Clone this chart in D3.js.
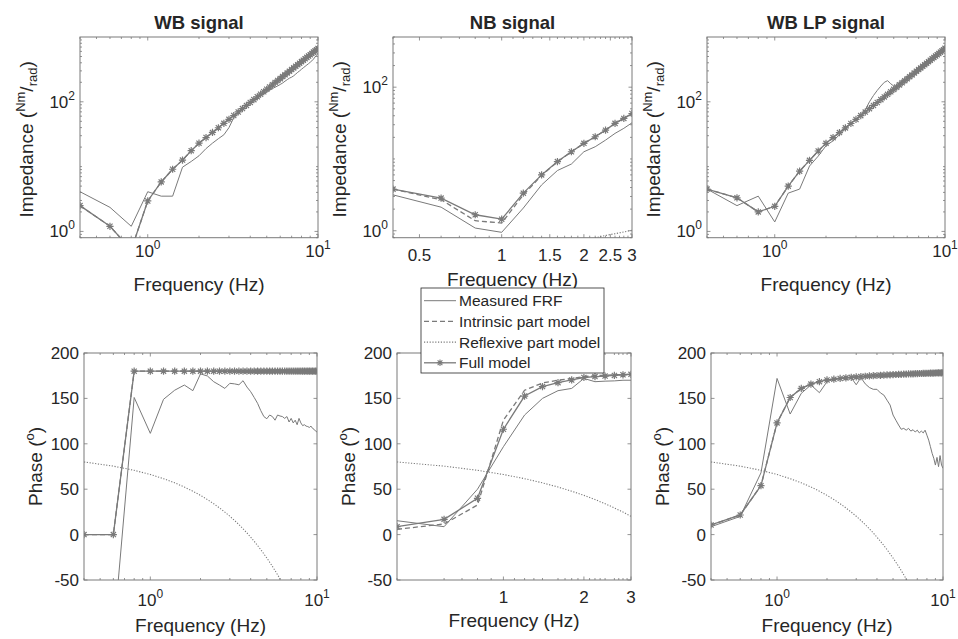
<!DOCTYPE html>
<html>
<head>
<meta charset="utf-8">
<script src="https://cdn.jsdelivr.net/npm/d3@7"></script>
<style>
  body { margin: 0; background: #fff; }
  text { font-family: "Liberation Sans", Arial, Helvetica, sans-serif; fill: #262626; }
</style>
</head>
<body>
<svg id="fig" width="958" height="639"></svg>
<script>
// frequencies (Hz)
const freqWB = [0.4, 0.6, 0.8, 1.0, 1.2, 1.4, 1.6, 1.8, 2.0, 2.2, 2.4, 2.6, 2.8, 3.0, 3.2, 3.4, 3.6, 3.8, 4.0, 4.2,
  4.4, 4.6, 4.8, 5.0, 5.2, 5.4, 5.6, 5.8, 6.0, 6.2, 6.4, 6.6, 6.8, 7.0, 7.2, 7.4, 7.6, 7.8, 8.0, 8.2,
  8.4, 8.6, 8.8, 9.0, 9.2, 9.4, 9.6, 9.8, 10.0];
const freqNB = [0.4, 0.6, 0.8, 1.0, 1.2, 1.4, 1.6, 1.8, 2.0, 2.2, 2.4, 2.6, 2.8, 3.0];

// WB signal
const wbMagMeasured = [4.1, 2.35, 1.2, 4.1, 3.5, 3.5, 9.8, 12, 14.7, 19, 23, 27, 31, 40, 57, 66, 76, 86, 95, 104,
  114, 124, 134, 143, 152, 160, 168, 176, 185, 195, 208, 220, 232, 240, 252, 268, 285, 300, 318, 335,
  352, 370, 388, 408, 428, 455, 490, 520, 560];
const wbMagFull = [2.5, 1.2, 0.52, 2.95, 5.8, 9.1, 12.6, 17.6, 23, 28.1, 33.7, 39.8, 46.5, 53.7, 61.4, 69.7, 78.6, 88, 97.9, 108,
  119.5, 131, 143, 156, 169, 183, 198, 213, 228, 245, 261, 279, 297, 315, 334, 354, 374, 395, 417, 439,
  462, 485, 509, 533, 558, 584, 610, 637, 665];
const wbMagIntrinsic = wbMagFull.slice();
const wbPhaseMeasured = [-120, -113, 151, 111.5, 149, 159, 164.7, 158.5, 177, 174.7, 168.4, 164.7, 161, 166.6, 166, 165, 169.5, 162.5, 157.4, 151,
  144.6, 136.5, 130, 127.6, 131.7, 130, 126, 131.7, 130.6, 130, 128, 130, 124, 128, 123, 126, 121, 128, 123, 120,
  121, 119.5, 119, 118, 119.5, 117, 116, 114, 113];
const wbPhaseFull = [0, 0, 180, 180, 180, 180, 180, 180, 180, 180, 180, 180, 180, 180, 180, 180, 180, 180, 180, 180,
  180, 180, 180, 180, 180, 180, 180, 180, 180, 180, 180, 180, 180, 180, 180, 180, 180, 180, 180, 180,
  180, 180, 180, 180, 180, 180, 180, 180, 180];
const wbPhaseIntrinsic = wbPhaseFull.slice();
const wbPhaseReflex = [80, 75.4, 70.8, 66.2, 61.6, 57, 52.4, 47.8, 43.2, 38.6, 34, 29.4, 24.8, 20.2, 15.6, 11, 6.4, 1.8, -2.8, -7.4,
  -12, -16.6, -21.2, -25.8, -30.4, -35, -39.6, -44.2, -48.8, -53.4, -58, -62.6, -67.2, -71.8, -76.4, -81, -85.6, -90.2, -94.8, -99.4,
  -104, -108.6, -113.2, -117.8, -122.4, -127, -131.6, -136.2, -140.8];

// NB signal
const nbMagMeasured = [3.16, 2.13, 1.09, 0.95, 2.07, 4.35, 6.9, 8.5, 12.6, 14.8, 18.3, 22.7, 26.7, 31.9];
const nbMagIntrinsic = [3.8, 2.7, 1.38, 1.28, 3.16, 5.9, 9.1, 12.6, 16.5, 20.4, 25.2, 31.3, 36.7, 43];
const nbMagReflex = [0.3, 0.35, 0.4, 0.45, 0.5, 0.55, 0.6, 0.66, 0.73, 0.8, 0.86, 0.91, 0.96, 1.02];
const nbMagFull = [3.8, 2.85, 1.67, 1.45, 3.34, 6.0, 9.2, 12.6, 16.5, 20.4, 25.2, 31.3, 36.7, 43];
const nbPhaseMeasured = [15.3, 8.7, 50, 96.8, 131.7, 150, 158.5, 161, 172, 168.4, 169, 169.3, 170, 170];
const nbPhaseIntrinsic = [5.8, 11.7, 32.6, 126, 159, 167, 170, 172, 174, 175, 175.5, 176, 176.3, 176.6];
const nbPhaseReflex = [80, 75.4, 70.8, 66.2, 61.6, 57, 52.4, 47.8, 43.2, 38.6, 34, 29.4, 24.8, 20.2];
const nbPhaseFull = [8.7, 16.8, 40, 116, 152.6, 163, 167.3, 170.3, 173, 174, 174.6, 175.3, 176, 176.5];

// WB LP signal
const lpMagMeasured = [4.5, 2.5, 3.5, 1.4, 3.9, 4.5, 10.2, 14.5, 21, 25, 31, 38, 46, 54, 63, 75, 100, 125, 150, 175,
  200, 212, 190, 175, 172, 180, 195, 208, 220, 240, 255, 272, 290, 305, 322, 338, 350, 362, 378, 398,
  425, 455, 480, 510, 540, 570, 600, 625, 650];
const lpMagFull = [4.5, 3.3, 2.0, 2.44, 5.0, 8.5, 12.5, 17.4, 22.9, 28, 33.5, 39.6, 46.3, 53.5, 61.2, 69.5, 78.4, 88, 97.6, 108,
  119, 130.5, 142.5, 155.5, 168.5, 182.5, 197, 212, 227, 244, 260, 278, 296, 314, 333, 353, 373, 394, 416, 438,
  461, 484, 508, 532, 557, 583, 609, 636, 668];
const lpMagIntrinsic = lpMagFull.slice();
const lpPhaseMeasured = [8.7, 20, 68, 172, 132.8, 155.6, 164.8, 156.3, 168.4, 171, 172, 173, 172.8, 165, 173, 166, 162, 160, 160, 156,
  153.7, 148, 142.7, 131.7, 126, 120.7, 116, 117, 115, 117, 114, 115.5, 113, 115, 112, 114, 112, 115, 109.5, 104,
  96.8, 89.5, 84, 76.6, 85, 74.8, 87, 76.6, 73];
const lpPhaseFull = [10.6, 21.6, 53.9, 123, 151, 161, 165.8, 168.4, 170.3, 171.2, 172, 172.6, 173.2, 173.6, 174, 174.4, 174.7, 175, 175.2, 175.4,
  175.6, 175.8, 176, 176.1, 176.3, 176.4, 176.5, 176.7, 176.8, 176.9, 177, 177.1, 177.2, 177.3, 177.4, 177.4, 177.5, 177.6, 177.7, 177.7,
  177.8, 177.9, 177.9, 178, 178.1, 178.1, 178.2, 178.2, 178.3];
const lpPhaseIntrinsic = lpPhaseFull.slice();
const lpPhaseReflex = wbPhaseReflex.slice();

// ticks
const logMinorWB = [0.4, 0.5, 0.6, 0.7, 0.8, 0.9, 2, 3, 4, 5, 6, 7, 8, 9];
const logMinorNB = [0.4, 0.6, 0.7, 0.8, 0.9, 1.1, 1.2, 1.3, 1.4, 1.6, 1.7, 1.8, 1.9, 2.1, 2.2, 2.3, 2.4, 2.6, 2.7, 2.8, 2.9];
const magMinor = [0.8, 0.9, 2, 3, 4, 5, 6, 7, 8, 9, 10, 20, 30, 40, 50, 60, 70, 80, 90, 200, 300, 400, 500, 600, 700, 800, 900];
const phaseTicks = [-50, 0, 50, 100, 150, 200];
const legendLabels = ['Measured FRF', 'Intrinsic part model', 'Reflexive part model', 'Full model'];

const LN = '#7a7a7a', AX = '#7a7a7a';
const styles = [
  { dash: null, width: 1 },
  { dash: '5,3', width: 1.3 },
  { dash: '1.2,1.6', width: 1.1 },
  { dash: null, width: 1.3, marker: true }
];

const svg = d3.select('#fig');

function star(s) {
  const a = s * 0.72;
  return `M${-s},0H${s}M0,${-s}V${s}M${-a},${-a}L${a},${a}M${-a},${a}L${a},${-a}`;
}

const panels = [
  { left: 80, right: 318, top: 37, bottom: 237.7, yDom: [0.8, 1000], log: true, xDom: [0.4, 10], freq: freqWB,
    title: 'WB signal', data: [wbMagMeasured, wbMagIntrinsic, null, wbMagFull], xt: [1, 10], xPow: true, xMinor: logMinorWB, xtBase: 257, xlBase: 291 },
  { left: 393, right: 632, top: 37, bottom: 237.7, yDom: [0.8, 500], log: true, xDom: [0.4, 3], freq: freqNB,
    title: 'NB signal', data: [nbMagMeasured, nbMagIntrinsic, nbMagReflex, nbMagFull], xt: [0.5, 1, 1.5, 2, 2.5, 3], xPow: false, xMinor: logMinorNB, xtBase: 261, xlBase: 286 },
  { left: 707, right: 945, top: 37, bottom: 237.7, yDom: [0.8, 1000], log: true, xDom: [0.4, 10], freq: freqWB,
    title: 'WB LP signal', data: [lpMagMeasured, lpMagIntrinsic, null, lpMagFull], xt: [1, 10], xPow: true, xMinor: logMinorWB, xtBase: 257, xlBase: 291 },
  { left: 84, right: 317, top: 353, bottom: 580, yDom: [-50, 200], log: false, xDom: [0.4, 10], freq: freqWB,
    data: [wbPhaseMeasured, wbPhaseIntrinsic, wbPhaseReflex, wbPhaseFull], xt: [1, 10], xPow: true, xMinor: logMinorWB, xtBase: 606, xlBase: 632 },
  { left: 397, right: 631, top: 353, bottom: 580, yDom: [-50, 200], log: false, xDom: [0.4, 3], freq: freqNB,
    data: [nbPhaseMeasured, nbPhaseIntrinsic, nbPhaseReflex, nbPhaseFull], xt: [1, 2, 3], xPow: false, xMinor: logMinorNB, xtBase: 603, xlBase: 627 },
  { left: 711, right: 943, top: 353, bottom: 580, yDom: [-50, 200], log: false, xDom: [0.4, 10], freq: freqWB,
    data: [lpPhaseMeasured, lpPhaseIntrinsic, lpPhaseReflex, lpPhaseFull], xt: [1, 10], xPow: true, xMinor: logMinorWB, xtBase: 606, xlBase: 632 }
];

panels.forEach((p, i) => {
  const g = svg.append('g');
  const x = d3.scaleLog().domain(p.xDom).range([p.left, p.right]);
  const y = (p.log ? d3.scaleLog() : d3.scaleLinear()).domain(p.yDom).range([p.bottom, p.top]);

  svg.append('clipPath').attr('id', 'clip' + i).append('rect')
    .attr('x', p.left).attr('y', p.top).attr('width', p.right - p.left).attr('height', p.bottom - p.top);
  const plot = g.append('g').attr('clip-path', `url(#clip${i})`);
  const line = d3.line().x(d => x(d[0])).y(d => y(d[1]));

  p.data.forEach((vals, k) => {
    if (!vals) return;
    const st = styles[k];
    const pts = p.freq.map((f, j) => [f, vals[j]]);
    plot.append('path').attr('d', line(pts)).attr('fill', 'none')
      .attr('stroke', LN).attr('stroke-width', st.width)
      .attr('stroke-dasharray', st.dash);
    if (st.marker) {
      plot.selectAll(null).data(pts).join('path')
        .attr('transform', d => `translate(${x(d[0])},${y(d[1])})`)
        .attr('d', star(3.6)).attr('fill', 'none').attr('stroke', LN).attr('stroke-width', 1.2);
    }
  });

  // box
  g.append('rect').attr('x', p.left).attr('y', p.top).attr('width', p.right - p.left).attr('height', p.bottom - p.top)
    .attr('fill', 'none').attr('stroke', AX).attr('stroke-width', 1);

  // x ticks
  const tk = g.append('g').attr('stroke', AX).attr('stroke-width', 0.8);
  p.xMinor.forEach(v => {
    tk.append('line').attr('x1', x(v)).attr('x2', x(v)).attr('y1', p.bottom).attr('y2', p.bottom - 2);
    tk.append('line').attr('x1', x(v)).attr('x2', x(v)).attr('y1', p.top).attr('y2', p.top + 2);
  });
  p.xt.forEach(v => {
    tk.append('line').attr('x1', x(v)).attr('x2', x(v)).attr('y1', p.bottom).attr('y2', p.bottom - 3.5);
    tk.append('line').attr('x1', x(v)).attr('x2', x(v)).attr('y1', p.top).attr('y2', p.top + 3.5);
    const t = g.append('text').attr('x', x(v)).attr('y', p.xtBase).attr('text-anchor', 'middle').attr('font-size', 17);
    if (p.xPow) {
      t.append('tspan').text('10');
      t.append('tspan').attr('font-size', 12).attr('dy', -8).text(Math.round(Math.log10(v)));
    } else {
      t.text(v);
    }
  });

  // y ticks
  const yMajor = p.log ? [1, 100] : phaseTicks;
  if (p.log) {
    magMinor.filter(v => v >= p.yDom[0] && v <= p.yDom[1]).forEach(v => {
      tk.append('line').attr('x1', p.left).attr('x2', p.left + 2).attr('y1', y(v)).attr('y2', y(v));
      tk.append('line').attr('x1', p.right).attr('x2', p.right - 2).attr('y1', y(v)).attr('y2', y(v));
    });
  }
  yMajor.forEach(v => {
    tk.append('line').attr('x1', p.left).attr('x2', p.left + 3.5).attr('y1', y(v)).attr('y2', y(v));
    tk.append('line').attr('x1', p.right).attr('x2', p.right - 3.5).attr('y1', y(v)).attr('y2', y(v));
    const t = g.append('text').attr('x', p.left - 5).attr('y', y(v) + 6).attr('text-anchor', 'end').attr('font-size', 17);
    if (p.log) {
      t.append('tspan').text('10');
      t.append('tspan').attr('font-size', 12).attr('dy', -8).text(Math.round(Math.log10(v)));
    } else {
      t.text(v);
    }
  });

  // labels
  const cx = (p.left + p.right) / 2, cy = (p.top + p.bottom) / 2;
  g.append('text').attr('x', cx).attr('y', p.xlBase).attr('text-anchor', 'middle').attr('font-size', 19).text('Frequency (Hz)');
  if (p.title) {
    g.append('text').attr('x', cx).attr('y', 29).attr('text-anchor', 'middle')
      .attr('font-size', 18.5).attr('font-weight', 'bold').text(p.title);
  }
  const yl = g.append('text').attr('text-anchor', 'middle').attr('font-size', 19);
  if (p.log) {
    yl.attr('transform', `translate(${p.left - 47},${cy + 2}) rotate(-90)`);
    yl.append('tspan').text('Impedance (');
    yl.append('tspan').attr('font-size', 13).attr('dy', -8).text('Nm');
    yl.append('tspan').attr('dy', 8).text('/');
    yl.append('tspan').attr('font-size', 13).attr('dy', 4).text('rad');
    yl.append('tspan').attr('dy', -4).text(')');
  } else {
    yl.attr('transform', `translate(${p.left - 42},${cy}) rotate(-90)`);
    yl.append('tspan').text('Phase (');
    yl.append('tspan').attr('font-size', 13).attr('dy', -8).text('o');
    yl.append('tspan').attr('dy', 8).text(')');
  }
});

// legend
const lg = svg.append('g');
lg.append('rect').attr('x', 421).attr('y', 288).attr('width', 183).attr('height', 85)
  .attr('fill', '#fff').attr('stroke', '#262626').attr('stroke-width', 0.8);
legendLabels.forEach((lab, k) => {
  const yy = 300.7 + k * 20.7;
  const st = styles[k];
  lg.append('line').attr('x1', 424).attr('x2', 456).attr('y1', yy).attr('y2', yy)
    .attr('stroke', LN).attr('stroke-width', st.width).attr('stroke-dasharray', st.dash);
  if (st.marker) {
    lg.append('path').attr('transform', `translate(440,${yy})`).attr('d', star(3.3))
      .attr('fill', 'none').attr('stroke', LN).attr('stroke-width', 1.1);
  }
  lg.append('text').attr('x', 459).attr('y', yy + 5.5).attr('font-size', 15.5).text(lab);
});
</script>
</body>
</html>
